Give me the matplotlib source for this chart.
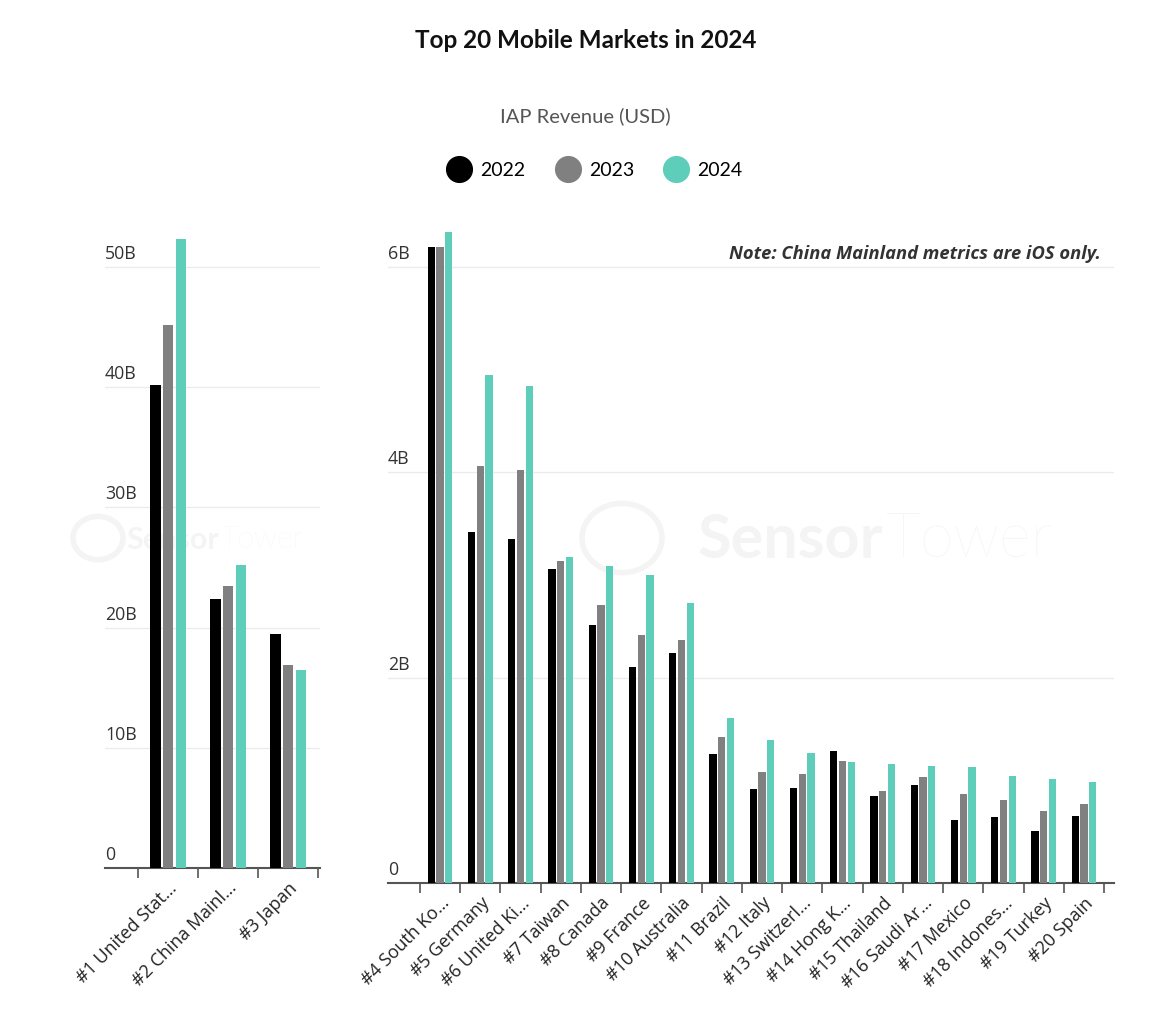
import matplotlib
matplotlib.use("Agg")
import matplotlib.pyplot as plt
import matplotlib.transforms as mtransforms
from matplotlib.lines import Line2D
import numpy as np

# ---------------- data ----------------
years = ["2022", "2023", "2024"]
colors = ["#000000", "#808080", "#5ecdb9"]

top_markets = ["#1 United Stat…", "#2 China Mainl…", "#3 Japan"]
top_2022 = [40.2, 22.4, 19.5]
top_2023 = [45.2, 23.5, 16.9]
top_2024 = [52.3, 25.2, 16.5]
top_ticks = [0, 10, 20, 30, 40, 50]
top_tick_labels = ["0", "10B", "20B", "30B", "40B", "50B"]

rest_markets = ["#4 South Ko…", "#5 Germany", "#6 United Ki…", "#7 Taiwan",
                "#8 Canada", "#9 France", "#10 Australia", "#11 Brazil",
                "#12 Italy", "#13 Switzerl…", "#14 Hong K…", "#15 Thailand",
                "#16 Saudi Ar…", "#17 Mexico", "#18 Indones…", "#19 Turkey",
                "#20 Spain"]
rest_2022 = [6.19, 3.42, 3.35, 3.06, 2.51, 2.10, 2.24, 1.26, 0.92, 0.93, 1.29,
             0.85, 0.95, 0.61, 0.64, 0.51, 0.65]
rest_2023 = [6.19, 4.06, 4.02, 3.14, 2.71, 2.42, 2.37, 1.42, 1.08, 1.06, 1.19,
             0.90, 1.03, 0.87, 0.81, 0.70, 0.77]
rest_2024 = [6.34, 4.95, 4.84, 3.18, 3.09, 3.00, 2.73, 1.61, 1.39, 1.27, 1.18,
             1.16, 1.14, 1.13, 1.04, 1.01, 0.98]
rest_ticks = [0, 2, 4, 6]
rest_tick_labels = ["0", "2B", "4B", "6B"]

note_text = "Note: China Mainland metrics are iOS only."

# ---------------- figure ----------------
W, H = 1176, 1019
fig = plt.figure(figsize=(W / 100, H / 100), dpi=100)
fig.patch.set_facecolor("white")

def fx(px):
    return px / W

def fy(py):
    return 1 - py / H

axL = fig.add_axes([fx(105), fy(868), fx(320) - fx(105), fy(230) - fy(868)])
axR = fig.add_axes([fx(388), fy(883), fx(1114) - fx(388), fy(230) - fy(883)])

BW = 0.18
OFF = 0.215
tick_font = "Open Sans"
wm_color = "#f4f4f4"

def draw(ax, cats, series, ticks, tlabels, ymax, xl, xr):
    x = np.arange(len(cats))
    for i, vals in enumerate(series):
        ax.bar(x + (i - 1) * OFF, vals, width=BW, color=colors[i], zorder=3,
               linewidth=0)
    ax.set_ylim(0, ymax)
    ax.set_xlim(xl, xr)
    ax.set_yticks(ticks)
    ax.set_yticklabels([])
    ax.tick_params(axis="y", length=0)
    for t in ticks[1:]:
        ax.axhline(t, color="#ebebeb", lw=1.0, zorder=1)
    offset = mtransforms.ScaledTranslation(0, 4 / 100, fig.dpi_scale_trans)
    trans = mtransforms.blended_transform_factory(ax.transAxes, ax.transData) + offset
    for t, lab in zip(ticks, tlabels):
        ax.text(0.0, t, lab, transform=trans, ha="left", va="bottom",
                fontsize=12.8, color="#333333", family=tick_font)
    ax.set_xticks(x)
    ax.set_xticklabels(cats, rotation=45, ha="right", rotation_mode="anchor",
                       fontsize=13, color="#222222", family=tick_font)
    ax.tick_params(axis="x", length=0, pad=8)
    ax.set_xticks(np.arange(len(cats) + 1) - 0.5, minor=True)
    ax.tick_params(axis="x", which="minor", length=7, width=1.2, color="#555555")
    for s in ["top", "right", "left"]:
        ax.spines[s].set_visible(False)
    ax.spines["bottom"].set_color("#555555")
    ax.spines["bottom"].set_linewidth(1.5)
    ax.set_facecolor("none")

draw(axL, top_markets, [top_2022, top_2023, top_2024], top_ticks, top_tick_labels,
     (868 - 230) / ((868 - 267) / 50), -(168 - 105) / 60, 2 + (320 - 288) / 60)
draw(axR, rest_markets, [rest_2022, rest_2023, rest_2024], rest_ticks, rest_tick_labels,
     (883 - 230) / ((883 - 267) / 6), -(440 - 388) / 40.25, 16 + (1114 - 1084) / 40.25)

# watermark (behind bars, inside axes)
def watermark(ax, split_px, cy_px, size, logo_cx, logo_r):
    ax.text(fx(split_px), fy(cy_px), "Sensor", fontsize=size, fontweight="bold",
            color=wm_color, ha="right", va="center", family="Lato",
            transform=fig.transFigure, zorder=0)
    ax.text(fx(split_px + 2), fy(cy_px), "Tower", fontsize=size, fontweight="light",
            color=wm_color, ha="left", va="center", family="Lato",
            transform=fig.transFigure, zorder=0)
    circ = plt.Circle((fx(logo_cx), fy(cy_px - 2)), logo_r / W, transform=fig.transFigure,
                      fill=False, ec=wm_color, lw=4, zorder=0, clip_on=False)
    ax.add_artist(circ)

watermark(axL, 219, 540, 22, 98, 25)
watermark(axR, 883, 540, 44, 622, 40)

# note
offN = mtransforms.ScaledTranslation(0, 4 / 100, fig.dpi_scale_trans)
transN = mtransforms.blended_transform_factory(axR.transAxes, axR.transData) + offN
axR.text((1101 - 388) / (1114 - 388), 6, note_text, transform=transN, ha="right",
         va="bottom", fontsize=13.2, fontweight="bold", fontstyle="italic",
         color="#333333", family="Open Sans")

# title and subtitle
fig.text(fx(586), fy(40), "Top 20 Mobile Markets in 2024", ha="center", va="center",
         fontsize=17.5, fontweight="bold", color="#111111", family="Lato")
fig.text(fx(585), fy(116), "IAP Revenue (USD)", ha="center", va="center",
         fontsize=14.5, color="#555555", family="Lato")

handles = [Line2D([], [], marker="o", linestyle="none", markersize=18.5,
                  markerfacecolor=c, markeredgecolor=c) for c in colors]
fig.legend(handles, years, loc="center", bbox_to_anchor=(fx(595), fy(170)),
           ncol=3, frameon=False, prop={"family": "Lato", "size": 14},
           handletextpad=0.5, columnspacing=1.55, handlelength=1.2)

fig.savefig("out.png", dpi=100, facecolor="white")
